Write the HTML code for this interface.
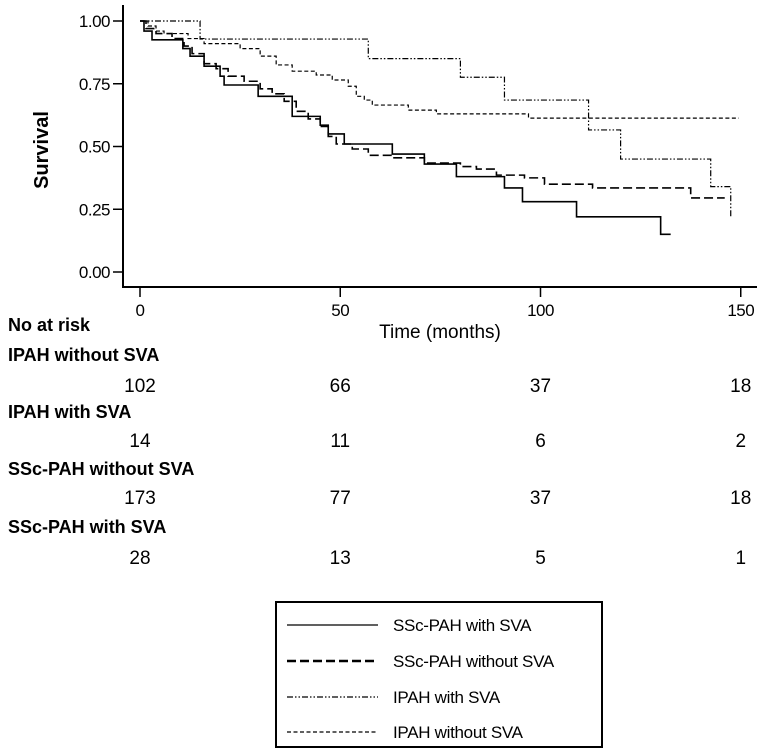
<!DOCTYPE html>
<html><head><meta charset="utf-8"><style>
html,body{margin:0;padding:0;background:#fff;}
svg{display:block;}
</style></head><body>
<svg id="chart" width="762" height="755" viewBox="0 0 762 755" xmlns="http://www.w3.org/2000/svg" font-family="Liberation Sans, Arial, sans-serif">
<g id="axes"></g>
<g id="series"></g>
<g id="risk"></g>
<g id="legend"></g>
</svg>
<script>
const xTicks=[0,50,100,150];
const yTicks=[0,0.25,0.5,0.75,1];
const yTickLabels=["0.00","0.25","0.50","0.75","1.00"];
// step curves: [time, survival]
const sscWith=[[0,1],[1,0.96],[3,0.925],[10.7,0.89],[12.5,0.86],[16,0.82],[20,0.78],[21,0.745],[29.5,0.70],[38,0.62],[45,0.585],[47,0.55],[51,0.51],[63,0.47],[71,0.43],[79,0.38],[91,0.335],[95.5,0.28],[109,0.22],[130,0.15],[132.5,0.15]];
const sscWithout=[[0,1],[1.5,0.97],[4,0.95],[8,0.93],[11,0.90],[13,0.87],[16,0.83],[19,0.81],[22,0.78],[26,0.76],[30,0.73],[33,0.71],[36,0.68],[39,0.64],[42,0.61],[45,0.58],[47,0.54],[49,0.51],[53,0.49],[57,0.465],[63,0.455],[71,0.434],[80,0.42],[84,0.41],[89,0.386],[96,0.375],[101,0.35],[113,0.335],[137.5,0.295],[146,0.295]];
const ipahWith=[[0,1],[15,0.928],[57,0.85],[80,0.776],[91,0.685],[112,0.566],[120,0.45],[142.5,0.34],[147.5,0.22]];
const ipahWithout=[[0,1],[2,0.98],[4,0.96],[6,0.95],[12,0.93],[16,0.91],[25,0.89],[30,0.86],[34,0.825],[38,0.80],[44,0.785],[48,0.765],[52,0.74],[54,0.70],[56,0.685],[58,0.665],[67,0.645],[74,0.63],[97,0.613],[149.5,0.613]];
const riskGroups=["IPAH without SVA","IPAH with SVA","SSc-PAH without SVA","SSc-PAH with SVA"];
const riskIpahWithout=[102,66,37,18];
const riskIpahWith=[14,11,6,2];
const riskSscWithout=[173,77,37,18];
const riskSscWith=[28,13,5,1];
const legendLabels=["SSc-PAH with SVA","SSc-PAH without SVA","IPAH with SVA","IPAH without SVA"];

const NS="http://www.w3.org/2000/svg";
const X=t=>140+t*4.005;
const Y=s=>272-s*251;
function mk(tag,attrs,parent,text){const e=document.createElementNS(NS,tag);for(const k in attrs)e.setAttribute(k,attrs[k]);if(text!==undefined)e.textContent=text;parent.appendChild(e);return e;}
const axes=document.getElementById('axes');
let e;
e=mk('line',{x1:123,y1:5,x2:123,y2:288,stroke:'#000','stroke-width':2},axes);

e=mk('line',{x1:122,y1:287,x2:757,y2:287,stroke:'#000','stroke-width':2},axes);

yTicks.forEach((v,i)=>{
  e=mk('line',{x1:113,y1:Y(v),x2:123,y2:Y(v),stroke:'#000','stroke-width':1.5},axes);
  
  e=mk('text',{x:110,y:Y(v)+6,'text-anchor':'end','font-size':17,'letter-spacing':'-0.5'},axes,yTickLabels[i]);
  
});
xTicks.forEach(v=>{
  e=mk('line',{x1:X(v),y1:287,x2:X(v),y2:297,stroke:'#000','stroke-width':1.5},axes);
  
  e=mk('text',{x:X(v),y:316,'text-anchor':'middle','font-size':17,'letter-spacing':'-0.5'},axes,String(v));
  
});
e=mk('text',{x:0,y:0,transform:'translate(48,150) rotate(-90)','text-anchor':'middle','font-size':20,'font-weight':'bold'},axes,'Survival');

e=mk('text',{x:440,y:338,'text-anchor':'middle','font-size':19},axes,'Time (months)');


const ser=document.getElementById('series');
const styles=[
 {d:sscWith,w:1.6,dash:'',name:'curve-ssc-pah-with-sva'},
 {d:sscWithout,w:1.6,dash:'9 4',name:'curve-ssc-pah-without-sva'},
 {d:ipahWith,w:1.2,dash:'6 2 1.5 2 1.5 2',name:'curve-ipah-with-sva'},
 {d:ipahWithout,w:1.2,dash:'4 2.5',name:'curve-ipah-without-sva'}];
styles.forEach(s=>{
  let p='M'+X(s.d[0][0])+' '+Y(s.d[0][1]);
  for(let i=1;i<s.d.length;i++){p+=' H'+X(s.d[i][0])+' V'+Y(s.d[i][1]);}
  e=mk('path',{d:p,fill:'none',stroke:'#000','stroke-width':s.w,'stroke-dasharray':s.dash},ser);
  
});

const risk=document.getElementById('risk');
e=mk('text',{x:8,y:331,'font-size':18,'font-weight':'bold'},risk,'No at risk');

const rows=[riskIpahWithout,riskIpahWith,riskSscWithout,riskSscWith];
const labY=[361,418,475,533], numY=[392,447,504,564];
rows.forEach((r,i)=>{
  e=mk('text',{x:8,y:labY[i],'font-size':18,'font-weight':'bold'},risk,riskGroups[i]);
  
  r.forEach((n,j)=>{
    e=mk('text',{x:X(xTicks[j]),y:numY[i],'text-anchor':'middle','font-size':19},risk,String(n));
    
  });
});

const lg=document.getElementById('legend');
e=mk('rect',{x:276,y:602,width:326,height:145,fill:'#fff',stroke:'#000','stroke-width':2},lg);

const lgY=[625,661,697,732];
legendLabels.forEach((l,i)=>{
  e=mk('line',{x1:287,y1:lgY[i],x2:378,y2:lgY[i],stroke:'#000','stroke-width':i==1?2.4:1.2,'stroke-dasharray':styles[i].dash},lg);
  
  e=mk('text',{x:393,y:lgY[i]+6,'font-size':17,'letter-spacing':'-0.3'},lg,l);
  
});
</script>
</body></html>
